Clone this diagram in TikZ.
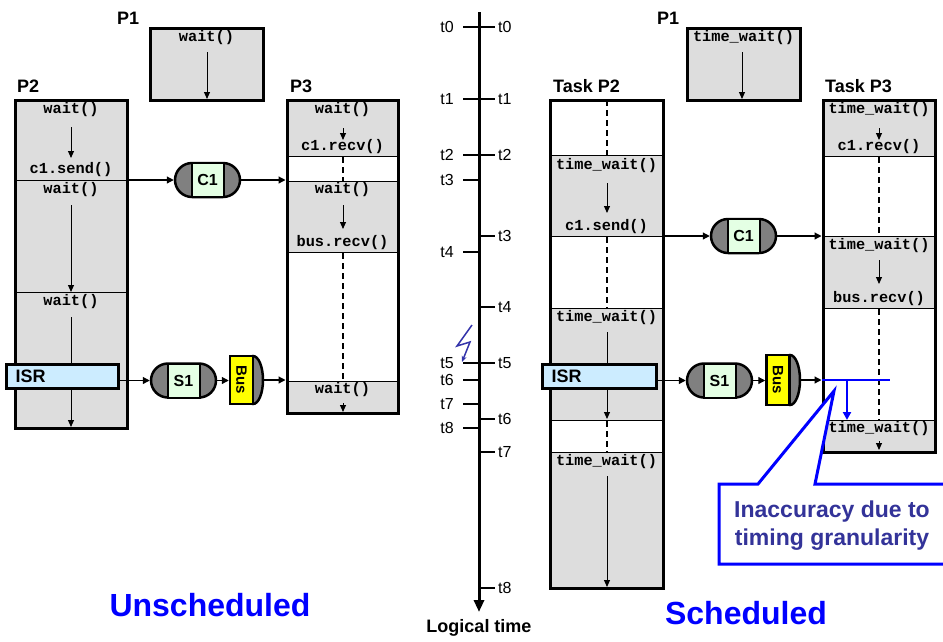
\documentclass[tikz,border=0pt]{standalone}
\usepackage{fontspec}
\setmainfont{Liberation Sans}
\setmonofont{Liberation Mono}
\usetikzlibrary{arrows.meta,shapes.misc,shapes.geometric}
\definecolor{boxgray}{RGB}{221,221,221}
\definecolor{capgray}{RGB}{128,128,128}
\definecolor{chgreen}{RGB}{228,255,228}
\definecolor{isrblue}{RGB}{204,236,255}
\definecolor{calltext}{RGB}{51,51,153}
\definecolor{boltblue}{RGB}{51,51,170}
\definecolor{busyellow}{RGB}{255,255,0}
\tikzset{
  code/.style={font=\ttfamily\bfseries\fontsize{15.3}{16}\selectfont, inner sep=0pt},
  lbl/.style={font=\bfseries\fontsize{18}{20}\selectfont, inner sep=0pt},
  tlbl/.style={font=\fontsize{16}{18}\selectfont, inner sep=0pt},
  procbox/.style={draw=black, line width=3pt, inner sep=0pt},
  sepline/.style={line width=1pt},
  flow/.style={line width=1pt, -{Triangle[length=7pt,width=6pt]}},
  dashline/.style={line width=1.5pt, dash pattern=on 6pt off 4pt},
  conn/.style={line width=1.2pt, -{Triangle[length=7pt,width=7pt]}},
  chan/.style={rounded rectangle, draw, line width=2.5pt, fill=capgray, inner sep=0pt, minimum width=65pt, minimum height=34pt},
  chanmid/.style={rectangle, draw, line width=2pt, fill=chgreen, inner sep=0pt, minimum width=32pt, minimum height=34pt, font=\bfseries\fontsize{16}{18}\selectfont},
  isrbox/.style={rectangle, draw, line width=3pt, fill=isrblue, inner sep=0pt, minimum height=24pt},
  isrtext/.style={font=\bfseries\fontsize{18}{20}\selectfont, inner sep=0pt},
  buscap/.style={ellipse, draw, line width=2.5pt, fill=capgray, inner sep=0pt, minimum width=20pt},
  busbox/.style={rectangle, draw, line width=2.5pt, fill=busyellow, inner sep=0pt, minimum width=23pt},
  bustext/.style={font=\bfseries\fontsize{15}{16}\selectfont, rotate=-90, inner sep=0pt},
  tick/.style={line width=2pt},
  bigtitle/.style={font=\bfseries\fontsize{32}{36}\selectfont, text=blue, inner sep=0pt},
}
\begin{document}
\begin{tikzpicture}[x=1pt,y=-1pt]
\useasboundingbox (0,0) rectangle (943,641);

%================ UNSCHEDULED =================
% P1
\fill[boxgray] (150,28) rectangle (263,100);
\node[code] at (206.5,38) {wait()};
\draw[flow] (207,52) -- (207,99);
\node[procbox, minimum width=113pt, minimum height=72pt] (lP1) at (206.5,64) {};
\node[lbl, anchor=west] (lP1t) at (117,18) {P1};

% P2
\fill[boxgray] (15,100) rectangle (127,428);
\draw[sepline] (15,180) -- (127,180);
\draw[sepline] (15,292) -- (127,292);
\node[code] at (71,110) {wait()};
\draw[flow] (71,127) -- (71,158);
\node[code] at (71,170) {c1.send()};
\node[code] at (71,190) {wait()};
\draw[flow] (71,205) -- (71,292);
\node[code] at (71,302) {wait()};
\draw[flow] (71,317) -- (71,427);
\node[procbox, minimum width=112pt, minimum height=328pt] (lP2) at (71,264) {};
\node[lbl, anchor=west] (lP2t) at (17,86) {P2};

% P3
\fill[boxgray] (287,100) rectangle (398,156);
\fill[boxgray] (287,181) rectangle (398,252);
\fill[boxgray] (287,381) rectangle (398,413);
\draw[sepline] (287,156) -- (398,156);
\draw[sepline] (287,181) -- (398,181);
\draw[sepline] (287,252) -- (398,252);
\draw[sepline] (287,381) -- (398,381);
\node[code] at (342.5,110) {wait()};
\draw[flow] (343,128) -- (343,140);
\node[code] at (342.5,147) {c1.recv()};
\draw[dashline] (343,157) -- (343,181);
\node[code] at (342.5,190) {wait()};
\draw[flow] (343,205) -- (343,229);
\node[code] at (342.5,243) {bus.recv()};
\draw[dashline] (343,253) -- (343,381);
\node[code] at (342.5,390) {wait()};
\draw[flow] (343,403) -- (343,412);
\node[procbox, minimum width=111pt, minimum height=313pt] (lP3) at (342.5,256.5) {};
\node[lbl, anchor=west] (lP3t) at (290,86) {P3};

% C1 channel
\node[chan] (lC1) at (207.5,180) {};
\node[chanmid] (lC1m) at (lC1) {C1};
\draw[conn] (lC1.west -| lP2.east) -- (lC1.west);
\draw[conn] (lC1.east) -- (lC1.east -| lP3.west);

% ISR
\node[isrbox, minimum width=112pt] (lISR) at (62,376) {};
\node[isrtext, anchor=west] (lISRt) at ([xshift=11pt]lISR.west) {ISR};

% S1 channel
\node[chan] (lS1) at (183.5,380.5) {};
\node[chanmid] (lS1m) at (lS1) {S1};

% Bus
\node[buscap, minimum height=48pt] (lBusCap) at (253,380) {};
\node[busbox, minimum height=48pt] (lBus) at (241.5,380) {};
\node[bustext] at (lBus) {Bus};

\draw[conn] (lISR.east |- lS1.west) -- (lS1.west);
\draw[conn] (lS1.east) -- (lS1.east -| lBus.west);
\draw[conn] (lBusCap.east) -- (lBusCap.east -| lP3.west);

\node[bigtitle] (unsch) at (210,605) {Unscheduled};

%================ TIMELINE =================
\coordinate (axTop) at (479,12);
\coordinate (axBot) at (479,612);
\draw[line width=3pt, -{Triangle[length=12pt,width=10pt]}] (axTop) -- (axBot);
\foreach \y/\t in {27/t0,99/t1,155/t2,180/t3,252/t4,363/t5,380/t6,404/t7,428/t8}{
  \draw[tick] (463,\y) -- (479,\y);
  \node[tlbl, anchor=east] at (454,\y) {\t};
}
\foreach \y/\t in {27/t0,99/t1,155/t2,236/t3,307/t4,363/t5,419/t6,452/t7,588/t8}{
  \draw[tick] (479,\y) -- (495,\y);
  \node[tlbl, anchor=west] at (498,\y) {\t};
}
\draw[boltblue, line width=1.5pt, -{Stealth[length=6pt,width=5pt]}] (472,325) -- (457,346) -- (470,342) -- (462,362);
\node[lbl] (ltime) at (479,628) {Logical time};

%================ SCHEDULED =================
% P1
\fill[boxgray] (687,28) rectangle (800,100);
\node[code] at (743.5,38) {time\_wait()};
\draw[flow] (742,52) -- (742,99);
\node[procbox, minimum width=113pt, minimum height=72pt] (rP1) at (743.5,64) {};
\node[lbl, anchor=west] (rP1t) at (657,18) {P1};

% Task P2
\fill[boxgray] (550,155) rectangle (663,236);
\fill[boxgray] (550,308) rectangle (663,420);
\fill[boxgray] (550,452) rectangle (663,588);
\foreach \y in {155,236,308,420,452}{ \draw[sepline] (550,\y) -- (663,\y); }
\draw[dashline] (607,100) -- (607,155);
\node[code] at (606.5,166) {time\_wait()};
\draw[flow] (607,183) -- (607,213);
\node[code] at (606.5,227) {c1.send()};
\draw[dashline] (607,237) -- (607,308);
\node[code] at (606.5,318) {time\_wait()};
\draw[flow] (607,332) -- (607,419);
\draw[dashline] (607,421) -- (607,452);
\node[code] at (606.5,462) {time\_wait()};
\draw[flow] (607,476) -- (607,587);
\node[procbox, minimum width=113pt, minimum height=488pt] (rP2) at (606.5,344) {};
\node[lbl, anchor=west] (rP2t) at (553,86) {Task P2};

% Task P3
\fill[boxgray] (823,100) rectangle (935,156);
\fill[boxgray] (823,236) rectangle (935,308);
\fill[boxgray] (823,420) rectangle (935,452);
\foreach \y in {156,236,308,420}{ \draw[sepline] (823,\y) -- (935,\y); }
\node[code] at (879,110) {time\_wait()};
\draw[flow] (879,128) -- (879,140);
\node[code] at (879,147) {c1.recv()};
\draw[dashline] (879,157) -- (879,236);
\node[code] at (879,246) {time\_wait()};
\draw[flow] (879,260) -- (879,284);
\node[code] at (879,299) {bus.recv()};
\draw[dashline] (879,309) -- (879,420);
\node[code] at (879,429) {time\_wait()};
\draw[flow] (879,441) -- (879,450);
\node[procbox, minimum width=112pt, minimum height=352pt] (rP3) at (879,276) {};
\node[lbl, anchor=west] (rP3t) at (825,86) {Task P3};

% C1 channel
\node[chan] (rC1) at (743.5,236) {};
\node[chanmid] (rC1m) at (rC1) {C1};
\draw[conn] (rC1.west -| rP2.east) -- (rC1.west);
\draw[conn] (rC1.east) -- (rC1.east -| rP3.west);

% ISR
\node[isrbox, minimum width=114pt] (rISR) at (599,376.5) {};
\node[isrtext, anchor=west] (rISRt) at ([xshift=11pt]rISR.west) {ISR};

% S1
\node[chan] (rS1) at (719.5,380.5) {};
\node[chanmid] (rS1m) at (rS1) {S1};

% Bus
\node[buscap, minimum height=50pt] (rBusCap) at (790,380) {};
\node[busbox, minimum height=50pt] (rBus) at (778,380) {};
\node[bustext] at (rBus) {Bus};

\draw[conn] (rISR.east |- rS1.west) -- (rS1.west);
\draw[conn] (rS1.east) -- (rS1.east -| rBus.west);
\coordinate (rArr) at (rBusCap.east -| rP3.west);
\draw[conn] (rBusCap.east) -- (rArr);

% granularity marks
\coordinate (gEnd) at (890,380);
\draw[blue, line width=1.5pt] (rArr) -- (gEnd);
\coordinate (gTop) at (847,380);
\coordinate (gBot) at (847,420);
\draw[blue, line width=2.5pt, -{Triangle[length=8pt,width=8pt]}] (gTop) -- (gBot);

% callout
\begin{scope}
\clip (0,0) rectangle (943,641);
\draw[blue, line width=3pt, line join=miter, fill=white] (960,484) -- (815,484) -- (834,391) -- (758,484) -- (719,484) -- (719,564) -- (960,564);
\end{scope}
\node[font=\bfseries\fontsize{23}{28}\selectfont, text=calltext, align=center, inner sep=0pt] (callt) at (832,526) {Inaccuracy due to\\timing granularity};

\node[bigtitle] (sch) at (746,613) {Scheduled};
\end{tikzpicture}
\end{document}
